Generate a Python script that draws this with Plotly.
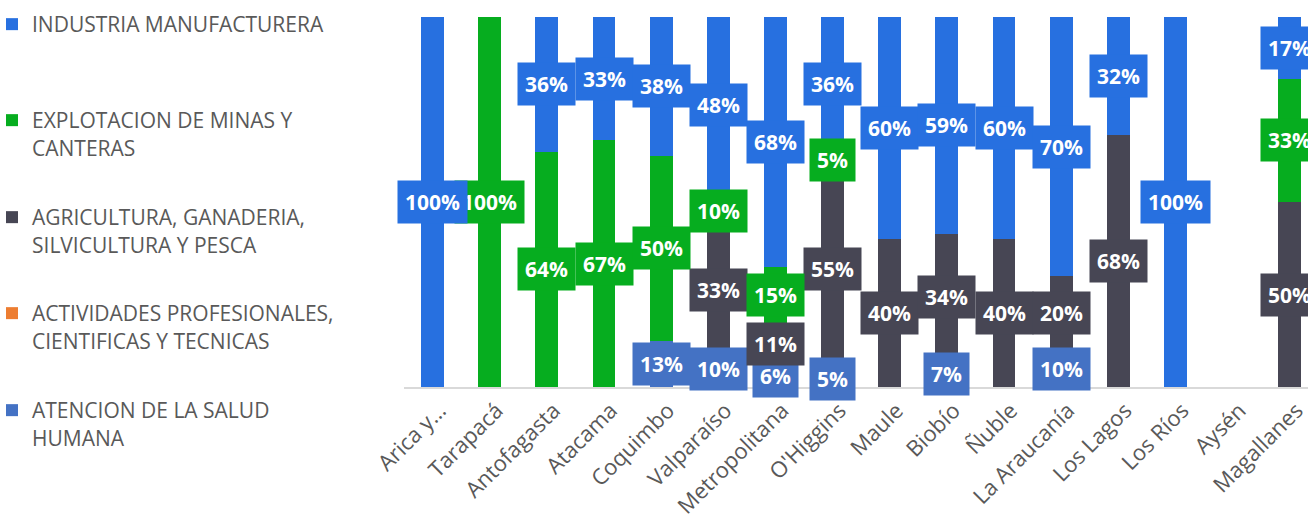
import math
import plotly.graph_objects as go

categories = ["Arica y…", "Tarapacá", "Antofagasta", "Atacama", "Coquimbo", "Valparaíso",
              "Metropolitana", "O'Higgins", "Maule", "Biobío", "Ñuble", "La Araucanía",
              "Los Lagos", "Los Ríos", "Aysén", "Magallanes"]

industria = [100, 0, 36.4, 33.3, 37.5, 47.7, 67.7, 36.4, 60, 58.6, 60, 70, 32, 100, 0, 16.7]
minas = [0, 100, 63.6, 66.7, 50, 9.5, 14.9, 4.55, 0, 0, 0, 0, 0, 0, 0, 33.3]
agricultura = [0, 0, 0, 0, 0, 33.3, 11.3, 54.5, 40, 34.4, 40, 20, 68, 0, 0, 50]
actividades = [0, 0, 0, 0, 0, 0, 0, 0, 0, 0, 0, 0, 0, 0, 0, 0]
salud = [0, 0, 0, 0, 12.5, 9.5, 6.1, 4.55, 0, 7.0, 0, 10, 0, 0, 0, 0]

# stacking order: bottom -> top
series = [
    ("ATENCION DE LA SALUD<br>HUMANA", salud, "#4472C4", "legend5", 410),
    ("ACTIVIDADES PROFESIONALES,<br>CIENTIFICAS Y TECNICAS", actividades, "#ED7D31", "legend4", 313),
    ("AGRICULTURA, GANADERIA,<br>SILVICULTURA Y PESCA", agricultura, "#474654", "legend3", 217),
    ("EXPLOTACION DE MINAS Y<br>CANTERAS", minas, "#06AD1F", "legend2", 120),
    ("INDUSTRIA MANUFACTURERA", industria, "#2770E0", "legend", 24),
]

W, H = 1308, 519
ML, MR, MT, MB = 404, 0, 17, 132
PW, PH = W - ML - MR, H - MT - MB
FONT = "Open Sans"
GRAY = "#595959"


def half_up(v):
    return int(math.floor(v + 0.5))


fig = go.Figure()
annotations = []
base = [0.0] * len(categories)
for name, vals, color, leg, _ in series:
    fig.add_trace(go.Bar(
        x=categories, y=vals, name=name, marker=dict(color=color, line=dict(width=0)),
        width=0.4, legend=leg, hoverinfo="x+y+name",
    ))
    for i, v in enumerate(vals):
        if v > 0:
            annotations.append(dict(
                x=categories[i], y=base[i] + v / 2, xref="x", yref="y",
                text=f"{half_up(v)}%", showarrow=False, bgcolor=color, borderpad=7,
                font=dict(family=FONT, size=21, color="white", weight="bold"),
            ))
        base[i] += v

legend_layouts = {}
for name, vals, color, leg, ycenter in series:
    top_px = ycenter - 20
    legend_layouts[leg] = dict(
        xref="paper", yref="paper", x=(-8 - ML) / PW, y=1 - (top_px - MT) / PH,
        xanchor="left", yanchor="top", valign="top", bgcolor="rgba(0,0,0,0)",
        font=dict(family=FONT, size=21, color=GRAY), itemwidth=30,
    )

fig.update_layout(
    width=W, height=H, autosize=False,
    margin=dict(l=ML, r=MR, t=MT, b=MB, autoexpand=False),
    paper_bgcolor="white", plot_bgcolor="white",
    barmode="stack",
    showlegend=True,
    annotations=annotations,
    xaxis=dict(
        type="category", range=[-0.5, 15.32], showgrid=False, zeroline=False,
        showline=True, linecolor="#D9D9D9", linewidth=2, ticks="",
        tickangle=-45, tickfont=dict(family=FONT, size=22, color=GRAY), automargin=False,
        ticklabelshift=7, ticklabelstandoff=0,
    ),
    yaxis=dict(range=[0, 100], visible=False, showgrid=False, zeroline=False, fixedrange=True),
    **legend_layouts,
)

fig.write_html("out.html")
